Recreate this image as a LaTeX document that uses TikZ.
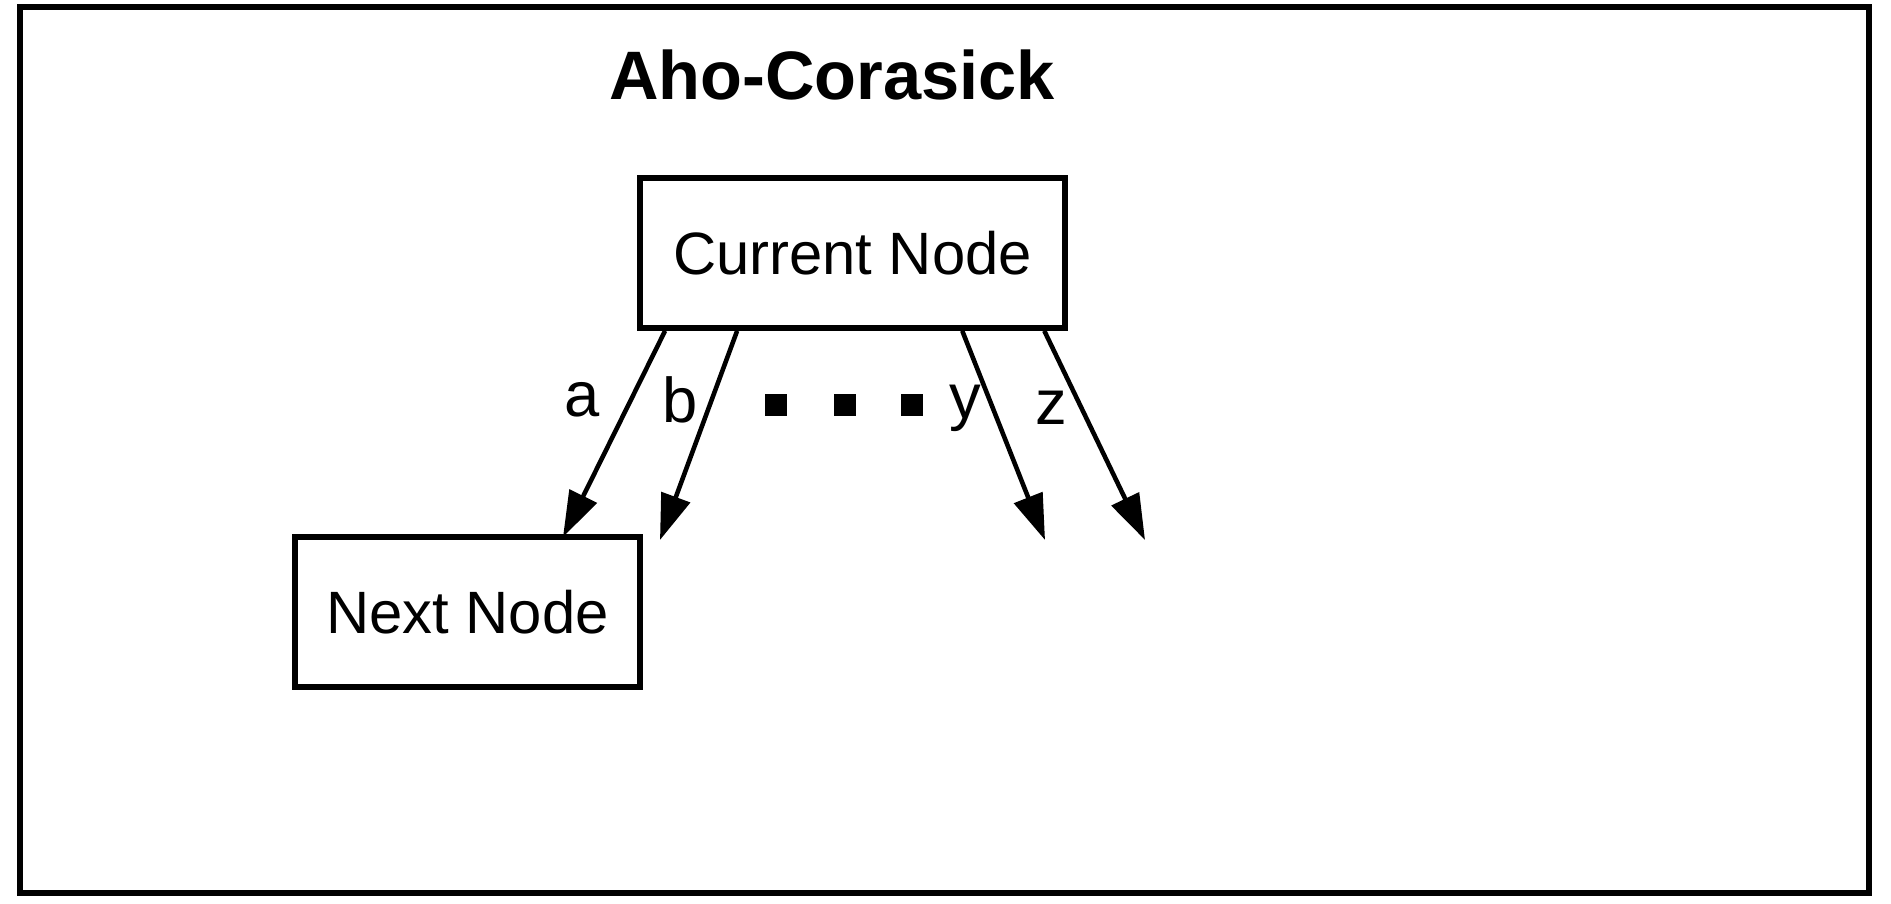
\documentclass[tikz,border=0pt]{standalone}
\usepackage{fontspec}
\setmainfont{Liberation Sans}
\usetikzlibrary{arrows.meta}
\begin{document}
\begin{tikzpicture}[x=0.01cm,y=-0.01cm,
  box/.style={draw,line width=1.6pt,inner sep=0pt,font=\fontsize{17}{20}\selectfont},
  arr/.style={line width=1.3pt,-{Triangle[length=13pt,width=8.5pt]}},
  lbl/.style={font=\fontsize{18}{21}\selectfont},
  sq/.style={fill=black,minimum size=6pt,inner sep=0pt}]
\useasboundingbox (0,0) rectangle (1891,904);
\draw[line width=1.6pt] (20,7) rectangle (1869,893);
\node[font=\bfseries\fontsize{19.5}{24}\selectfont] (title) at (832,75) {Aho-Corasick};
\node[box,minimum width=4.25cm,minimum height=1.5cm] (cur) at (852.5,253) {Current Node};
\node[box,minimum width=3.45cm,minimum height=1.5cm] (next) at (467.5,612) {Next Node};
\coordinate (ea) at (563,537);
\coordinate (eb) at (660,540);
\coordinate (ey) at (1045,540);
\coordinate (ez) at (1145,540);
\draw[arr] ([xshift=0.28cm]cur.south west) -- (ea);
\draw[arr] ([xshift=1.0cm]cur.south west) -- (eb);
\draw[arr] ([xshift=3.25cm]cur.south west) -- (ey);
\draw[arr] ([xshift=4.07cm]cur.south west) -- (ez);
\node[lbl] (la) at (582,400) {a};
\node[lbl] (lb) at (680,400) {b};
\node[lbl] (ly) at (965,408) {y};
\node[lbl] (lz) at (1051,408) {z};
\node[sq] (s1) at (776,405) {};
\node[sq] (s2) at (845,405) {};
\node[sq] (s3) at (912,405) {};
\end{tikzpicture}
\end{document}
